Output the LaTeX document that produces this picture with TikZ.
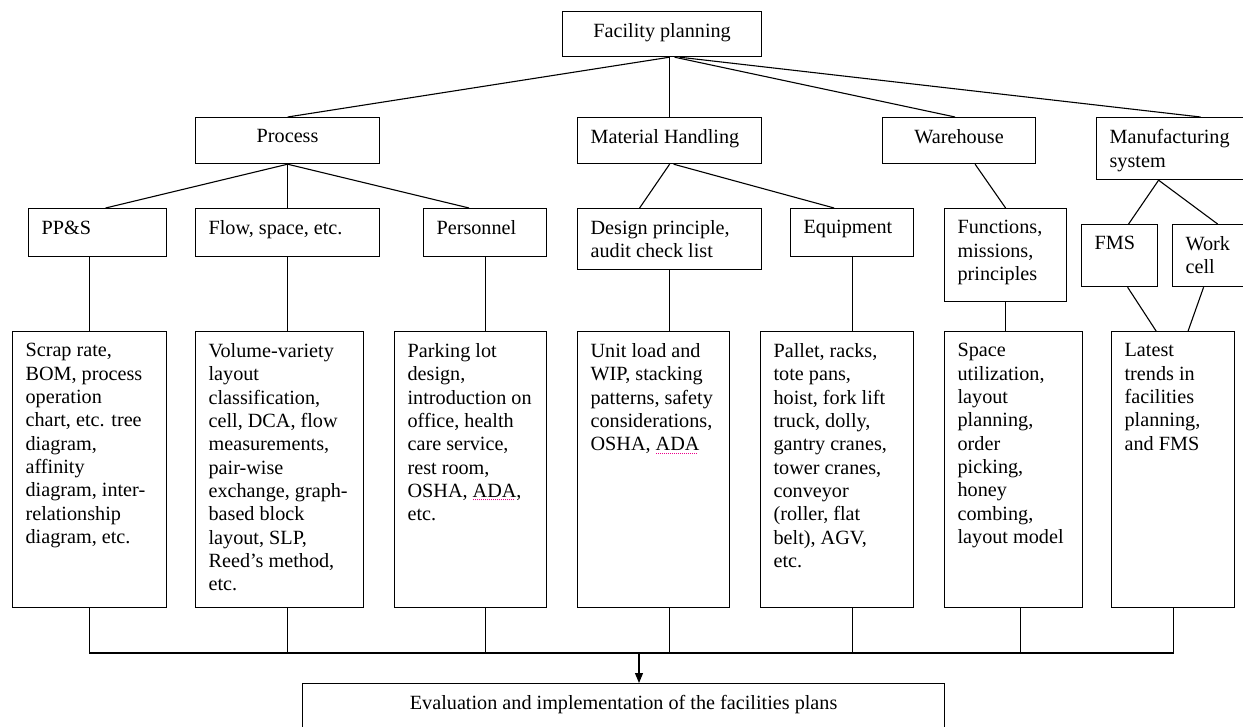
\documentclass[tikz,border=0pt]{standalone}
\usepackage{fontspec}
\setmainfont{Liberation Serif}
\usetikzlibrary{arrows.meta}

\newcommand{\boxfont}{\fontsize{20.2pt}{23.3pt}\selectfont}
\newcommand{\celltext}[4][\raggedright\leftskip=13pt]{%
  \begin{minipage}[t][\dimexpr#3pt-24pt\relax][t]{#2pt}#1 #4\end{minipage}}
\newlength{\spellwd}
\newcommand{\spellmark}[1]{\settowidth{\spellwd}{#1}%
  \rlap{\raisebox{-3pt}{\color{magenta}\leaders\hbox to 2pt{\hss\rule{1pt}{1pt}\hss}\hskip\spellwd}}#1}

\begin{document}
\begin{tikzpicture}[x=1pt, y=-1pt,
    box/.style={draw, line width=1.2pt, anchor=north west, inner xsep=0pt, inner ysep=12pt, font=\boxfont},
    link/.style={line width=1.1pt}]
  \useasboundingbox (0,0) rectangle (1243,726);
  \clip (0,0) rectangle (1243,726);

  \node[box] (fp) at (562,11) {\celltext[\centering]{199}{45}{Facility planning}};

  \node[box] (proc) at (195,117) {\celltext[\centering]{184}{46}{Process}};
  \node[box] (mh) at (577,117) {\celltext{184}{46}{Material Handling}};
  \node[box] (wh) at (882,117) {\celltext[\centering]{153}{46}{Warehouse}};
  \node[box] (ms) at (1096,117) {\celltext{160}{62}{Manufacturing\\system}};

  \node[box] (pps) at (28,208) {\celltext{138}{48}{PP\&S}};
  \node[box] (flow) at (195,208) {\celltext{184}{48}{Flow, space, etc.}};
  \node[box] (pers) at (423,208) {\celltext{123}{48}{Personnel}};
  \node[box] (dsgn) at (577,208) {\celltext{184}{61}{Design principle,\\audit check list}};
  \node[box] (equip) at (790,208) {\celltext{123}{48}{Equipment}};
  \node[box] (func) at (944,208) {\celltext{122}{93}{Functions,\\missions,\\principles}};
  \node[box] (fms) at (1081,224) {\celltext{76}{62}{FMS}};
  \node[box] (wcell) at (1172,224) {\celltext{80}{62}{Work\\cell}};

  \node[box] (b1) at (12,331) {\celltext{154}{276}{Scrap rate,\\BOM, process\\operation\\chart, etc. tree\\diagram,\\affinity\\diagram, inter-\\relationship\\diagram, etc.}};
  \node[box] (b2) at (195,331) {\celltext{168}{276}{Volume-variety\\layout\\classification,\\cell, DCA, flow\\measurements,\\pair-wise\\exchange, graph-\\based block\\layout, SLP,\\Reed's method,\\etc.}};
  \node[box] (b3) at (394,331) {\celltext{152}{276}{Parking lot\\design,\\introduction on\\office, health\\care service,\\rest room,\\OSHA, \spellmark{ADA},\\etc.}};
  \node[box] (b4) at (577,331) {\celltext{152}{276}{Unit load and\\WIP, stacking\\patterns, safety\\considerations,\\OSHA, \spellmark{ADA}}};
  \node[box] (b5) at (760,331) {\celltext{153}{276}{Pallet, racks,\\tote pans,\\hoist, fork lift\\truck, dolly,\\gantry cranes,\\tower cranes,\\conveyor\\(roller, flat\\belt), AGV,\\etc.}};
  \node[box] (b6) at (944,331) {\celltext{138}{276}{Space\\utilization,\\layout\\planning,\\order\\picking,\\honey\\combing,\\layout model}};
  \node[box] (b7) at (1111,331) {\celltext{123}{276}{Latest\\trends in\\facilities\\planning,\\and FMS}};

  \node[box] (eval) at (302,683) {\celltext[\centering]{642}{60}{Evaluation and implementation of the facilities plans}};

  \coordinate (hub) at (fp.south -| mh.north);
  \draw[link] (hub) -- (proc.north);
  \draw[link] (hub) -- (mh.north);
  \draw[link] ([xshift=5pt]hub) -- ([xshift=-4pt]wh.north);
  \draw[link] ([xshift=10pt]hub) -- ([xshift=24pt]ms.north);

  \draw[link] (proc.south) -- ([xshift=8pt]pps.north);
  \draw[link] (proc.south) -- (flow.north);
  \draw[link] (proc.south) -- ([xshift=-16pt]pers.north);
  \draw[link] (mh.south) -- ([xshift=-30pt]dsgn.north);
  \draw[link] ([xshift=4pt]mh.south) -- ([xshift=-18pt]equip.north);
  \draw[link] ([xshift=16pt]wh.south) -- (func.north);
  \draw[link] ([xshift=-18pt]ms.south) -- ([xshift=9pt]fms.north);
  \draw[link] ([xshift=-18pt]ms.south) -- ([xshift=5pt]wcell.north);

  \draw[link] ([xshift=-8pt]pps.south) -- (b1.north);
  \foreach \up/\down in {flow/b2,pers/b3,dsgn/b4,equip/b5,func/b6}
    \draw[link] (\up.south) -- (\up.south |- \down.north);
  \draw[link] ([xshift=8pt]fms.south) -- ([xshift=-17pt]b7.north);
  \draw[link] ([xshift=-9pt]wcell.south) -- ([xshift=15pt]b7.north);

  \coordinate (bus) at (639,653);
  \draw[link] (b1.south) -- (b1.south |- bus) -- (b7.south |- bus) -- (b7.south);
  \foreach \up in {flow,pers,dsgn,equip}
    \draw[link] (\up.south |- b1.south) -- (\up.south |- bus);
  \draw[link] ([xshift=7pt]b6.south) -- ++(0,46);
  \draw[link, -{Triangle[length=10pt,width=8pt]}] (bus) -- (bus |- eval.north);
\end{tikzpicture}
\end{document}
